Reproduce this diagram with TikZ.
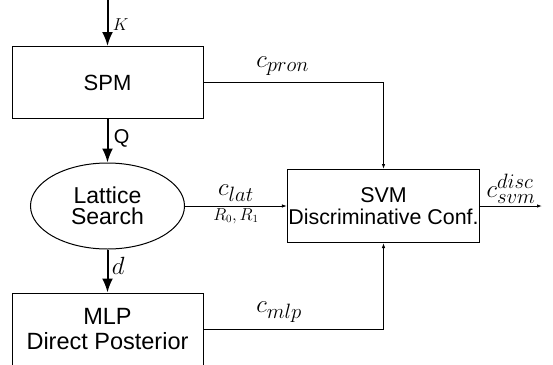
\documentclass[tikz,border=0pt]{standalone}
\usepackage{fontspec}
\setmainfont{Liberation Sans}
\setsansfont{Liberation Sans}
\usetikzlibrary{shapes.geometric,arrows.meta}
\DeclareMathSizes{25}{25}{21}{16}
\begin{document}
\begin{tikzpicture}[x=1pt, y=-1pt, font=\sffamily,
      box/.style={draw, line width=1pt, minimum width=191pt, minimum height=72pt, align=center, inner sep=1pt},
      flow/.style={-{Latex[length=14pt,width=11pt]}, line width=2pt},
      link/.style={-{Latex[length=5pt,width=3.5pt]}, line width=0.9pt},
      lbl/.style={font=\fontsize{25}{28}\selectfont},
      small/.style={font=\fontsize{16}{18}\selectfont}]
    \useasboundingbox (0,0) rectangle (553,364);
    \coordinate (in) at (107.5,0);
    \node[box, font=\fontsize{22}{24}\selectfont] (spm) at (107.5,82.5) {SPM};
    \node[draw, ellipse, line width=1pt, minimum width=154pt, minimum height=86pt, inner sep=0pt, align=center,
          font=\fontsize{23}{21}\selectfont] (lat) at (107.5,206) {Lattice\\Search};
    \node[box, minimum height=73pt, font=\fontsize{23.5}{25}\selectfont] (mlp) at (107.5,329.5) {MLP\\Direct Posterior};
    \node[box, minimum height=73pt, font=\fontsize{21.4}{22.5}\selectfont] (svm) at (383.5,206) {SVM\\Discriminative Conf.};
    \coordinate (out) at (542,206);
    \draw[flow] (in) -- node[right, small, xshift=1pt, yshift=-2pt] {$K$} (spm);
    \draw[flow] (spm) -- node[right, font=\fontsize{20}{24}\selectfont, xshift=2pt, yshift=2pt] {Q} (lat);
    \draw[flow] (lat) -- node[right, font=\fontsize{32}{34}\selectfont, yshift=5pt] {$d$} (mlp);
    \draw[link] (spm.east) -| node[pos=0.22, above, lbl, yshift=3pt] {$c_{pron}$} (svm.north);
    \draw[link] (lat.east) -- node[above, lbl, yshift=1pt] {$c_{lat}$} node[below, small, inner sep=2pt] {$R_0,R_1$} (svm.west);
    \draw[link] (mlp.east) -| node[pos=0.21, above, lbl, yshift=3pt] {$c_{mlp}$} (svm.south);
    \draw[link] (svm.east) -- node[above, lbl, inner sep=2pt] {$c_{svm}^{disc}$} (out);
\end{tikzpicture}
\end{document}
